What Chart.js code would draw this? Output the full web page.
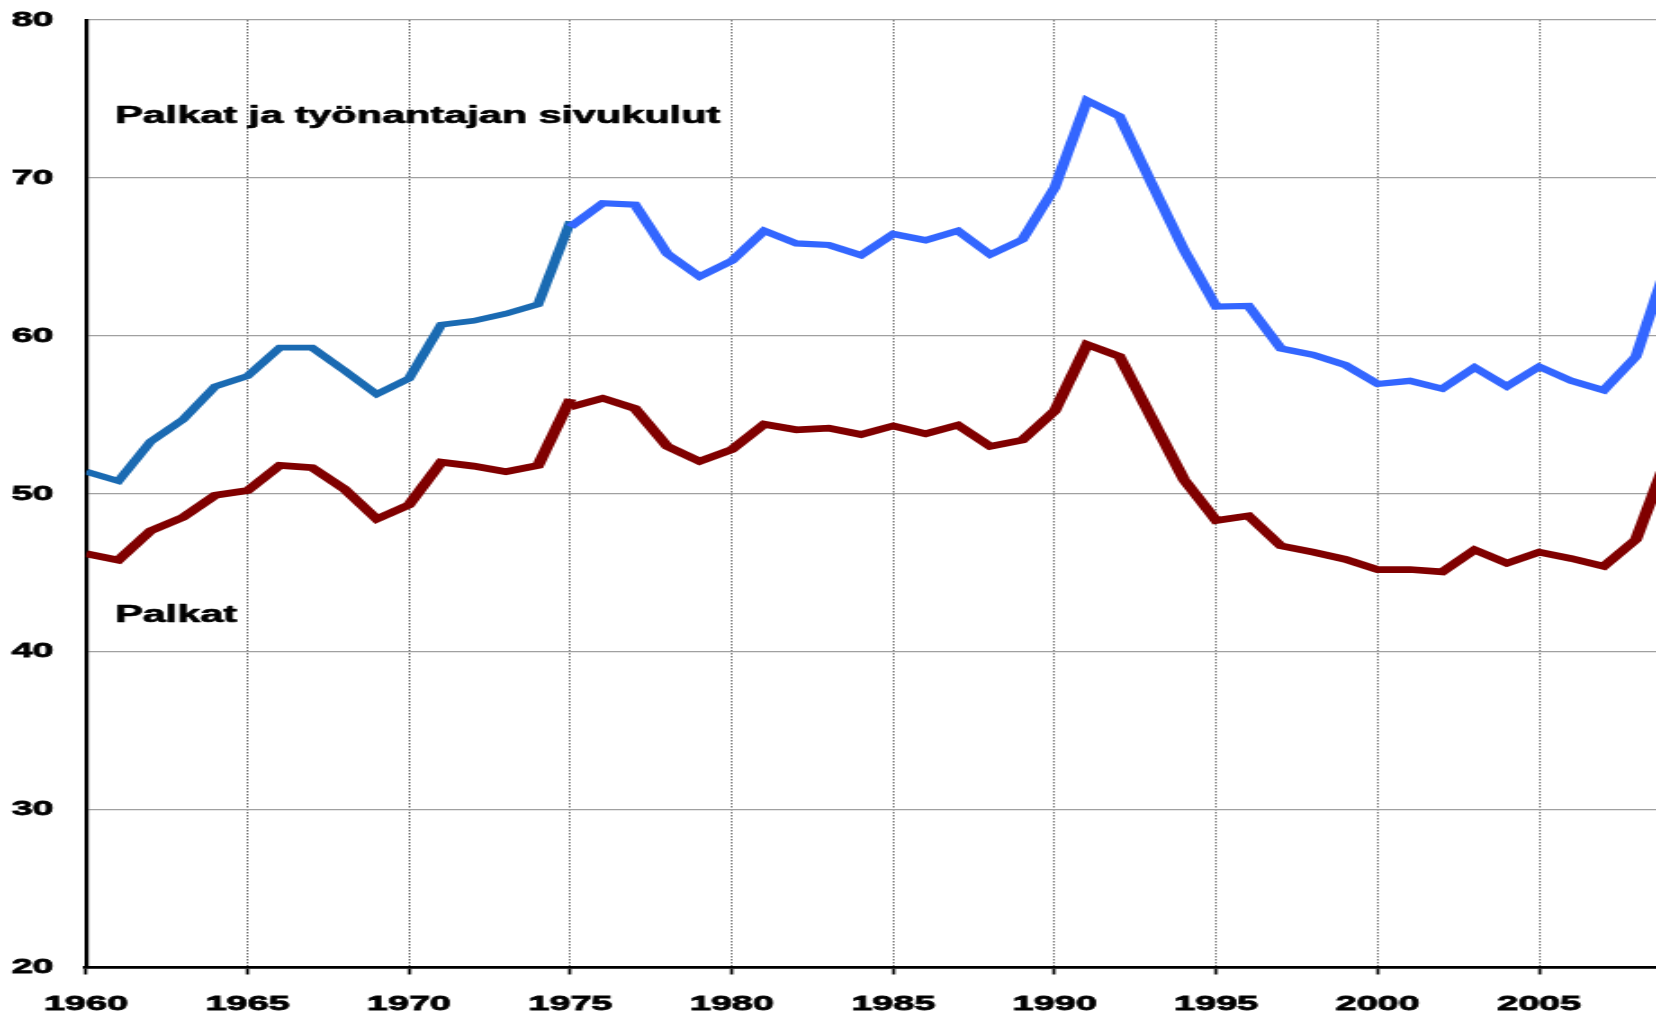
<!DOCTYPE html>
<html>
<head>
<meta charset="utf-8">
<script src="https://cdn.jsdelivr.net/npm/chart.js@4/dist/chart.umd.min.js"></script>
<style>
  html, body { margin: 0; padding: 0; background: #ffffff; overflow: hidden; }
  #c { display: block; width: 1656px; height: 1017px; }
</style>
</head>
<body>
<canvas id="c" width="920" height="1017" style="width:1656px;height:1017px;"></canvas>
<script>
// ---- data ----
const yearsOld = [1960,1961,1962,1963,1964,1965,1966,1967,1968,1969,1970,1971,1972,1973,1974,1975];
const totalOld = [51.4,50.8,53.3,54.7,56.8,57.45,59.25,59.25,57.8,56.3,57.3,60.7,60.95,61.4,62.0,67.25];
const wagesOld = [46.2,45.8,47.65,48.5,49.9,50.2,51.8,51.65,50.3,48.4,49.3,52.0,51.75,51.4,51.8,56.0];

const yearsNew = [1975,1976,1977,1978,1979,1980,1981,1982,1983,1984,1985,1986,1987,1988,1989,
                  1990,1991,1992,1993,1994,1995,1996,1997,1998,1999,2000,2001,2002,2003,2004,
                  2005,2006,2007,2008,2009];
const totalNew = [66.9,68.4,68.3,65.2,63.75,64.75,66.65,65.85,65.75,65.1,66.45,66.05,66.65,65.15,66.1,
                  69.4,74.9,73.9,69.65,65.45,61.85,61.9,59.2,58.8,58.15,56.95,57.15,56.65,58.0,56.8,
                  58.05,57.15,56.55,58.7,64.8];
const wagesNew = [55.5,56.05,55.4,53.0,52.05,52.8,54.4,54.05,54.15,53.75,54.3,53.8,54.35,53.0,53.4,
                  55.25,59.45,58.7,54.8,50.9,48.3,48.6,46.7,46.3,45.85,45.2,45.2,45.05,46.45,45.6,
                  46.3,45.9,45.4,47.1,52.5];

const xTickLabels = ['1960','1965','1970','1975','1980','1985','1990','1995','2000','2005'];
const yTickLabels = ['20','30','40','50','60','70','80'];

const seriesLabels = ['Palkat ja työnantajan sivukulut', 'Palkat'];
const noteX = [1960.9, 1960.9];
const noteY = [73.45, 41.9];

// ---- build ----
const pts = (xs, ys) => xs.map((x, i) => ({x: x, y: ys[i]}));
const FONT = "'Liberation Sans', Arial, Helvetica, sans-serif";

const notesPlugin = {
  id: 'notes',
  afterDatasetsDraw(chart) {
    const ctx = chart.ctx;
    const xs = chart.scales.x, ys = chart.scales.y;
    ctx.save();
    ctx.fillStyle = '#000';
    ctx.strokeStyle = '#000';
    ctx.lineWidth = 0.7;
    ctx.lineJoin = 'round';
    ctx.font = 'bold 23px ' + FONT;
    ctx.textAlign = 'left';
    ctx.textBaseline = 'alphabetic';
    seriesLabels.forEach((t, i) => {
      const px = xs.getPixelForValue(noteX[i]), py = ys.getPixelForValue(noteY[i]);
      ctx.strokeText(t, px, py);
      ctx.fillText(t, px, py);
    });
    ctx.restore();
  }
};

new Chart(document.getElementById('c'), {
  type: 'line',
  data: {
    datasets: [
      { label: seriesLabels[0], data: pts(yearsNew, totalNew), borderColor: '#3366ff', borderWidth: 6.2 },
      { label: seriesLabels[1], data: pts(yearsNew, wagesNew), borderColor: '#800000', borderWidth: 6.7 },
      { label: seriesLabels[1] + ' (vanha)', data: pts(yearsOld, wagesOld), borderColor: '#800000', borderWidth: 6.7 },
      { label: seriesLabels[0] + ' (vanha)', data: pts(yearsOld, totalOld), borderColor: '#1a6ab2', borderWidth: 5.8 }
    ]
  },
  options: {
    responsive: false,
    devicePixelRatio: 1,
    animation: false,
    events: [],
    layout: { padding: { top: 20, right: 0, bottom: 0, left: 0 } },
    elements: {
      point: { radius: 0, hoverRadius: 0 },
      line: { tension: 0, fill: false, borderCapStyle: 'butt', borderJoinStyle: 'miter' }
    },
    plugins: { legend: { display: false }, tooltip: { enabled: false } },
    scales: {
      x: {
        type: 'linear',
        min: 1960,
        max: 2008.62,
        afterFit(scale) { scale.height = 49.5; scale.paddingLeft = 0; scale.paddingRight = 0; },
        ticks: {
          stepSize: 5,
          includeBounds: false,
          autoSkip: false,
          maxRotation: 0,
          padding: 17,
          color: '#000',
          textStrokeColor: '#000',
          textStrokeWidth: 0.8,
          font: { family: FONT, size: 21, weight: 'bold' },
          callback: (v, i) => xTickLabels[i]
        },
        grid: {
          color: '#1a1a1a',
          lineWidth: 0.6,
          drawTicks: true,
          tickLength: 7,
          tickColor: '#000',
          tickWidth: 1.7
        },
        border: { display: true, color: '#000', width: 2.7, dash: [1.5, 1.5] }
      },
      y: {
        min: 20,
        max: 80,
        afterFit(scale) { scale.width = 47.8; scale.paddingTop = 0; scale.paddingBottom = 0; },
        ticks: {
          stepSize: 10,
          padding: 18,
          color: '#000',
          textStrokeColor: '#000',
          textStrokeWidth: 0.8,
          font: { family: FONT, size: 21, weight: 'bold' },
          callback: (v, i) => yTickLabels[i]
        },
        grid: { color: '#a0a0a0', lineWidth: 1.3, drawTicks: false },
        border: { display: true, color: '#000', width: 2.2 }
      }
    }
  },
  plugins: [notesPlugin]
});
</script>
</body>
</html>
